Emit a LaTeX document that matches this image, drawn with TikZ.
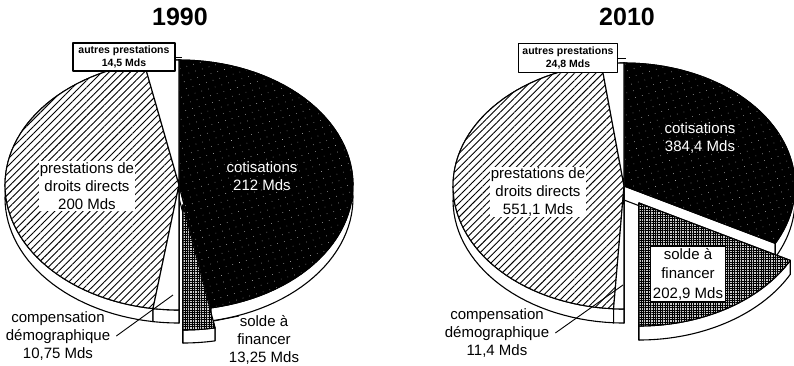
\documentclass[tikz,border=0pt]{standalone}
\usepackage{fontspec}
\setmainfont{Liberation Sans}
\usetikzlibrary{patterns.meta}
\tikzset{
  ln/.style={line width=1.1pt, line join=round},
  sideface/.style={ln, fill=white, draw=black},
  hatchface/.style={ln, preaction={fill=white}, pattern={Lines[angle=45,distance=5pt,line width=0.9pt]}, pattern color=black, draw=black},
  blackface/.style={ln, preaction={fill=black}, pattern={Dots[distance=7pt,radius=0.35pt,angle=17]}, pattern color=white, draw=black},
  greyface/.style={ln, preaction={fill=gray!40}, pattern={Hatch[angle=0,distance=2.4pt,line width=0.45pt]}, pattern color=black, draw=black},
  whiteface/.style={ln, fill=white, draw=black},
  lbl/.style={font=\fontsize{15}{18}\selectfont, align=center, inner sep=1pt},
  title/.style={font=\fontsize{25}{28}\selectfont\bfseries, inner sep=0pt},
  boxlbl/.style={draw=black, fill=white, ln, font=\fontsize{10.5}{12.5}\selectfont\bfseries, align=center, inner sep=1pt, minimum width=102pt, minimum height=28pt},
  leader/.style={line width=0.9pt}
}
\newcommand\PieWalls[2]{%
  \filldraw[sideface] (\pcx,\pcy) -- ({\pcx+\prx*cos(#1)},{\pcy-\pry*sin(#1)}) -- ({\pcx+\prx*cos(#1)},{\pcy+\pd-\pry*sin(#1)}) -- (\pcx,{\pcy+\pd}) -- cycle;
  \filldraw[sideface] (\pcx,\pcy) -- ({\pcx+\prx*cos(#2)},{\pcy-\pry*sin(#2)}) -- ({\pcx+\prx*cos(#2)},{\pcy+\pd-\pry*sin(#2)}) -- (\pcx,{\pcy+\pd}) -- cycle;}
\newcommand\PieBand[2]{%
  \filldraw[sideface] plot[domain=#1:#2,samples=60] ({\pcx+\prx*cos(\x)},{\pcy-\pry*sin(\x)}) -- plot[domain=#2:#1,samples=60] ({\pcx+\prx*cos(\x)},{\pcy+\pd-\pry*sin(\x)}) -- cycle;}
\newcommand\PieTop[3]{%
  \path[#3] (\pcx,\pcy) -- plot[domain=#1:#2,samples=60] ({\pcx+\prx*cos(\x)},{\pcy-\pry*sin(\x)}) -- cycle;}
\begin{document}
\begin{tikzpicture}[x=1pt,y=-1pt]
\useasboundingbox (0,0) rectangle (794,365);
\clip (0,0) rectangle (794,365);
\fill[white] (0,0) rectangle (794,365);
% ---------------- 1990 ----------------
\def\pcx{179}\def\pcy{185}\def\prx{174}\def\pry{125}\def\pd{13}
\PieWalls{-79.4}{90}
\PieWalls{101.6}{261.4}
\PieWalls{261.4}{270}
\PieWalls{90}{101.6}
\begin{scope}[shift={(4,20)}]\PieWalls{-90}{-79.4}\end{scope}
\PieBand{-79.4}{90}
\PieBand{101.6}{261.4}
\PieBand{261.4}{270}
\PieBand{90}{101.6}
\begin{scope}[shift={(4,20)}]\PieBand{-90}{-79.4}\end{scope}
\PieTop{-79.4}{90}{blackface}
\PieTop{101.6}{261.4}{hatchface}
\PieTop{261.4}{270}{whiteface}
\PieTop{90}{101.6}{whiteface}
\begin{scope}[shift={(4,20)}]\PieTop{-90}{-79.4}{greyface}\end{scope}
% ---------------- 2010 ----------------
\def\pcx{624}\def\pcy{186}\def\prx{171}\def\pry{123}\def\pd{14}
\PieWalls{-27.8}{90}
\PieWalls{97.6}{266.5}
\PieWalls{266.5}{270}
\PieWalls{90}{97.6}
\begin{scope}[shift={(15,17)}]\PieWalls{-90}{-27.8}\end{scope}
\PieBand{-27.8}{90}
\PieBand{97.6}{266.5}
\PieBand{266.5}{270}
\PieBand{90}{97.6}
\begin{scope}[shift={(15,17)}]\PieBand{-90}{-27.8}\end{scope}
\PieTop{-27.8}{90}{blackface}
\PieTop{97.6}{266.5}{hatchface}
\PieTop{266.5}{270}{whiteface}
\PieTop{90}{97.6}{whiteface}
\begin{scope}[shift={(15,17)}]\PieTop{-90}{-27.8}{greyface}\end{scope}
% ---------------- labels 1990 ----------------
\node[title] (t1) at (180,17) {1990};
\node[boxlbl] (b1) at (124,57) {autres prestations\\14,5 Mds};
\coordinate (b1tip) at (182,57);
\draw[leader] (b1.east) -- (b1tip);
\node[lbl, fill=white] (p1) at (87,186) {prestations de\\droits directs\\200 Mds};
\node[lbl, text=white] (k1) at (262,176) {cotisations\\212 Mds};
\node[lbl] (c1) at (58,336) {compensation\\démographique\\10,75 Mds};
\coordinate (c1tip) at (173,295);
\draw[leader] ([xshift=5pt]c1.east) -- (c1tip);
\node[lbl] (s1) at (264,340) {solde à\\financer\\13,25 Mds};
\coordinate (s1tip) at (214,321);
\coordinate (s1end) at (239,316);
\draw[leader] (s1tip) -- (s1end);
% ---------------- labels 2010 ----------------
\node[title] (t2) at (627,17) {2010};
\node[boxlbl, minimum width=99pt, minimum height=29pt] (b2) at (568,58) {autres prestations\\24,8 Mds};
\coordinate (b2tip) at (626,58);
\draw[leader] (b2.east) -- (b2tip);
\node[lbl, fill=white] (p2) at (538,192) {prestations de\\droits directs\\551,1 Mds};
\node[lbl, text=white] (k2) at (700,138) {cotisations\\384,4 Mds};
\node[lbl, draw=black, fill=white, ln, font=\fontsize{15}{19.5}\selectfont, minimum width=75pt, minimum height=56pt] (s2) at (688,274) {solde à\\financer\\202,9 Mds};
\node[lbl] (c2) at (497,333) {compensation\\démographique\\11,4 Mds};
\coordinate (c2tip) at (623,285);
\draw[leader] ([xshift=5pt]c2.east) -- (c2tip);
\end{tikzpicture}
\end{document}
